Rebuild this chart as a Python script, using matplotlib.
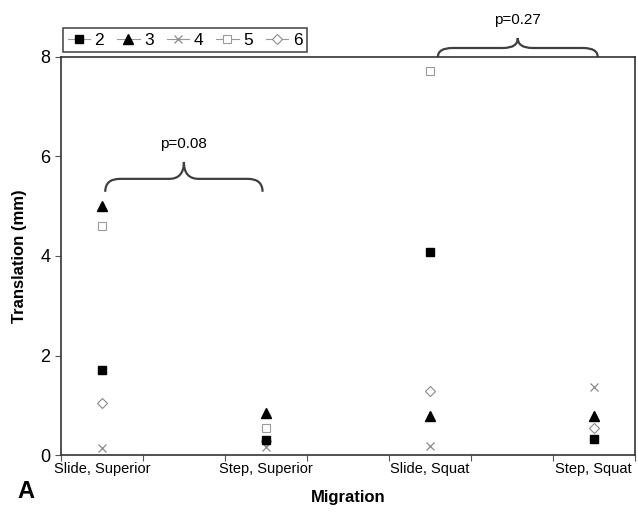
import matplotlib.pyplot as plt
import numpy as np
from matplotlib.lines import Line2D
from matplotlib.path import Path
from matplotlib.patches import PathPatch

# Data
categories = ["Slide, Superior", "Step, Superior", "Slide, Squat", "Step, Squat"]
series_names = ["2", "3", "4", "5", "6"]
s2 = [1.70, 0.30, 4.08, 0.32]
s3 = [5.00, 0.85, 0.78, 0.79]
s4 = [0.15, 0.17, 0.18, 1.37]
s5 = [4.60, 0.54, 7.72, 0.32]
s6 = [1.05, 0.28, 1.29, 0.54]
p_labels = ["p=0.08", "p=0.27"]

plt.rcParams["font.family"] = ["Liberation Sans", "DejaVu Sans"]

# category positions like an Excel category axis (centres between ticks)
x_pos = np.arange(len(categories)) * 2 + 0.5

styles = [
    dict(marker="s", mfc="black", mec="black", ms=5.5, zorder=4),
    dict(marker="^", mfc="black", mec="black", ms=6.5, zorder=4),
    dict(marker="x", mfc="none", mec="#8a8a8a", ms=5.5, mew=0.9, zorder=3),
    dict(marker="s", mfc="white", mec="#9a9a9a", ms=5.5, mew=0.8, zorder=2),
    dict(marker="D", mfc="white", mec="#8a8a8a", ms=5, mew=0.8, zorder=2),
]
values = [s2, s3, s4, s5, s6]


def draw_brace(ax, x0, x1, y0, h_line, h_tip, label, text_y):
    xm = (x0 + x1) / 2
    dx = 0.18
    verts = [
        (x0, y0), (x0, y0 + h_line), (x0 + dx, y0 + h_line),
        (xm - dx, y0 + h_line),
        (xm, y0 + h_line), (xm, y0 + h_tip),
        (xm, y0 + h_line), (xm + dx, y0 + h_line),
        (x1 - dx, y0 + h_line),
        (x1, y0 + h_line), (x1, y0),
    ]
    codes = [Path.MOVETO, Path.CURVE3, Path.CURVE3, Path.LINETO,
             Path.CURVE3, Path.CURVE3, Path.CURVE3, Path.CURVE3,
             Path.LINETO, Path.CURVE3, Path.CURVE3]
    patch = PathPatch(Path(verts, codes), fc="none", ec="#404040", lw=1.6,
                      clip_on=False)
    ax.add_patch(patch)
    ax.text(xm, text_y, label, ha="center", va="center", fontsize=11,
            clip_on=False)


fig = plt.figure(figsize=(6.38, 5.13), dpi=100)
ax = fig.add_axes([0.0956, 0.113, 0.899, 0.776])

handles = []
for name, vals, st in zip(series_names, values, styles):
    ax.plot(x_pos, vals, linestyle="none", clip_on=False, **st)
    leg_st = {k: v for k, v in st.items() if k != "zorder"}
    handles.append(Line2D([], [], color="#9a9a9a", lw=0.8, label=name, **leg_st))

ax.set_xlim(0, 7)
ax.set_ylim(0, 8)
ax.set_xticks(np.arange(0, 8))
ax.set_xticklabels([])
ax.set_xticks(x_pos, minor=True)
ax.set_xticklabels(categories, minor=True, fontsize=10.5)
ax.tick_params(axis="x", which="minor", length=0, pad=5)
ax.tick_params(axis="x", which="major", length=4, direction="out", color="#555555")
ax.set_yticks([0, 2, 4, 6, 8])
ax.set_yticklabels(["0", "2", "4", "6", "8"], fontsize=13)
ax.tick_params(axis="y", length=4, direction="out", color="#555555")
for sp in ax.spines.values():
    sp.set_color("#333333")
    sp.set_linewidth(1.2)

ax.set_ylabel("Translation (mm)", fontsize=12, fontweight="bold", labelpad=10)
ax.set_xlabel("Migration", fontsize=12, fontweight="bold", labelpad=10)
fig.text(0.027, 0.03, "A", fontsize=17, fontweight="bold")

draw_brace(ax, x_pos[0] + 0.04, x_pos[1] - 0.04, 5.29, 0.26, 0.6, p_labels[0], 6.25)
draw_brace(ax, x_pos[2] + 0.1, x_pos[3] + 0.05, 8.0, 0.18, 0.38, p_labels[1], 8.74)

leg = fig.legend(handles=handles, ncol=5, loc="upper left",
                 bbox_to_anchor=(0.099, 0.945), frameon=True, fancybox=False,
                 edgecolor="#222222", fontsize=12.5, handlelength=1.3,
                 handletextpad=0.25, columnspacing=0.75, borderpad=0.25,
                 borderaxespad=0)
leg.get_frame().set_linewidth(1.2)

fig.savefig("out.png", dpi=100)
